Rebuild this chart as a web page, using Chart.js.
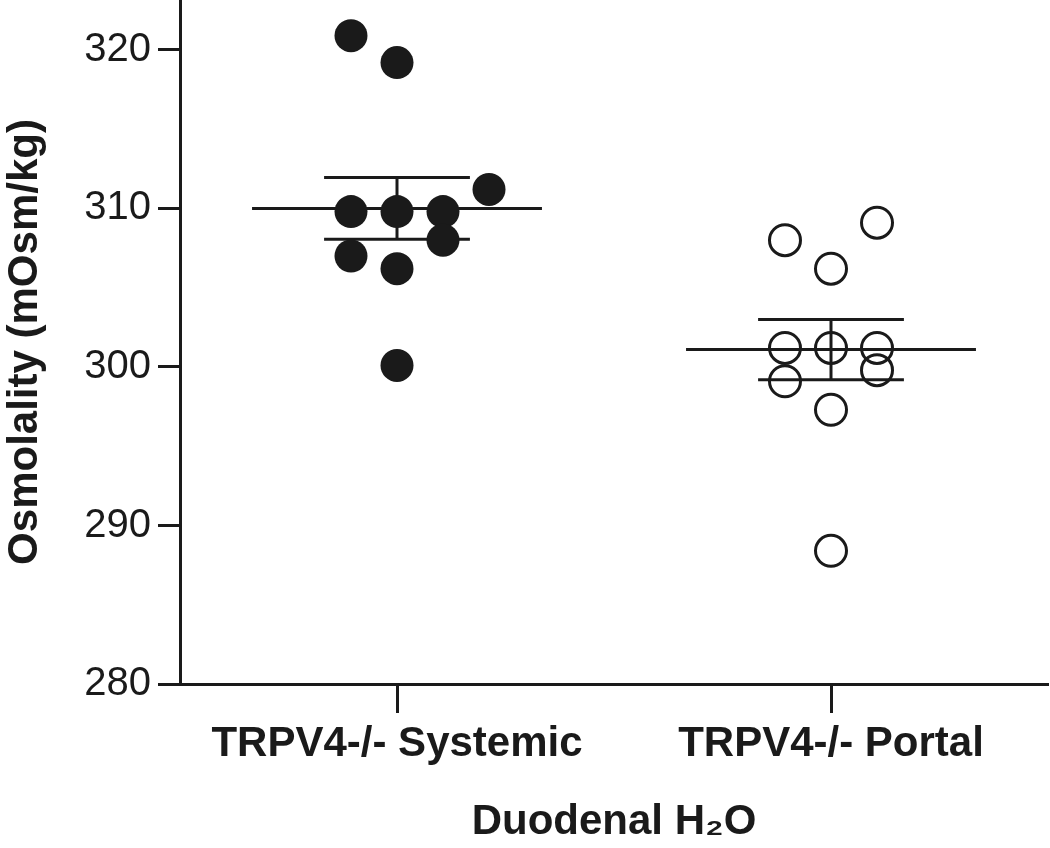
<!DOCTYPE html>
<html>
<head>
<meta charset="utf-8">
<script src="https://cdn.jsdelivr.net/npm/chart.js@4"></script>
<style>
  html, body { margin: 0; padding: 0; background: #fff; }
  #wrap { width: 1050px; height: 848px; position: relative; }
</style>
</head>
<body>
<div id="wrap"><canvas id="chart"></canvas></div>
<script>
// group names on the x axis
const groups = ['TRPV4-/- Systemic', 'TRPV4-/- Portal'];
const yTicks = [280, 290, 300, 310, 320];

// osmolality of each animal, mOsm/kg, and its jitter column (-1, 0, 1, 2)
const systemicValues = [320.9, 319.2, 311.2, 309.8, 309.8, 309.8, 308.0, 307.0, 306.2, 300.1];
const systemicCols   = [-1, 0, 2, -1, 0, 1, 1, -1, 0, 0];
const portalValues   = [308.0, 306.2, 309.1, 301.2, 301.2, 301.2, 299.1, 299.8, 297.3, 288.4];
const portalCols     = [-1, 0, 1, -1, 0, 1, -1, 1, 0, 0];

// mean and SEM per group
const means = [310.0, 301.1];
const sems  = [1.95, 1.9];

const ink = '#1a1a1a';
const jitter = 0.212;     // x units per jitter column
const meanHalf = 0.668;   // half width of the mean line
const semHalf = 0.336;    // half width of the SEM caps

function points(values, cols, center) {
  return values.map((v, i) => ({ x: center + cols[i] * jitter, y: v }));
}

function segment(x1, y1, x2, y2) {
  return {
    type: 'line',
    data: [{ x: x1, y: y1 }, { x: x2, y: y2 }],
    borderColor: ink,
    borderWidth: 3,
    pointRadius: 0,
    fill: false,
    clip: false
  };
}

const lineSets = [];
means.forEach((m, i) => {
  const c = 1 + i * 2;
  const s = sems[i];
  lineSets.push(segment(c - meanHalf, m, c + meanHalf, m));
  lineSets.push(segment(c - semHalf, m + s, c + semHalf, m + s));
  lineSets.push(segment(c - semHalf, m - s, c + semHalf, m - s));
  lineSets.push(segment(c, m - s, c, m + s));
});

new Chart(document.getElementById('chart'), {
  type: 'scatter',
  data: {
    datasets: [
      {
        label: groups[0],
        data: points(systemicValues, systemicCols, 1),
        backgroundColor: ink,
        borderColor: ink,
        borderWidth: 0,
        pointRadius: 16.5,
        pointHoverRadius: 16.5,
        clip: false
      },
      {
        label: groups[1],
        data: points(portalValues, portalCols, 3),
        backgroundColor: 'rgba(0,0,0,0)',
        borderColor: ink,
        borderWidth: 3,
        pointRadius: 15.5,
        pointHoverRadius: 15.5,
        clip: false
      },
      ...lineSets
    ]
  },
  options: {
    responsive: true,
    maintainAspectRatio: false,
    animation: false,
    layout: { autoPadding: false, padding: { top: 0, right: 2, bottom: 0, left: 0 } },
    plugins: {
      legend: { display: false },
      tooltip: { enabled: false }
    },
    scales: {
      x: {
        type: 'linear',
        min: 0,
        max: 4,
        afterBuildTicks: s => { s.ticks = [{ value: 1 }, { value: 3 }]; },
        afterFit: s => { s.height = 164; s.paddingLeft = 0; s.paddingRight = 0; },
        ticks: {
          callback: v => groups[(v - 1) / 2],
          color: ink,
          padding: 6,
          maxRotation: 0,
          font: { family: 'Liberation Sans, Arial, sans-serif', size: 42, weight: 'bold' }
        },
        grid: {
          drawOnChartArea: false,
          drawTicks: true,
          tickLength: 29,
          tickWidth: 3,
          tickColor: ink
        },
        border: { display: true, color: ink, width: 3 },
        title: {
          display: true,
          text: 'Duodenal H\u2082O',
          color: ink,
          padding: { top: 14, bottom: 0 },
          font: { family: 'Liberation Sans, Arial, sans-serif', size: 42, weight: 'bold' }
        }
      },
      y: {
        min: 280,
        max: 323.15,
        afterBuildTicks: s => { s.ticks = yTicks.map(v => ({ value: v })); },
        afterFit: s => { s.width = 180; s.paddingTop = 0; s.paddingBottom = 0; },
        ticks: {
          color: ink,
          padding: 7,
          font: { family: 'Liberation Sans, Arial, sans-serif', size: 40 }
        },
        grid: {
          drawOnChartArea: false,
          drawTicks: true,
          tickLength: 22,
          tickWidth: 3,
          tickColor: ink
        },
        border: { display: true, color: ink, width: 3 },
        title: {
          display: true,
          text: 'Osmolality (mOsm/kg)',
          color: ink,
          padding: { top: 0, bottom: 0 },
          font: { family: 'Liberation Sans, Arial, sans-serif', size: 42, weight: 'bold' }
        }
      }
    }
  }
});
</script>
</body>
</html>
